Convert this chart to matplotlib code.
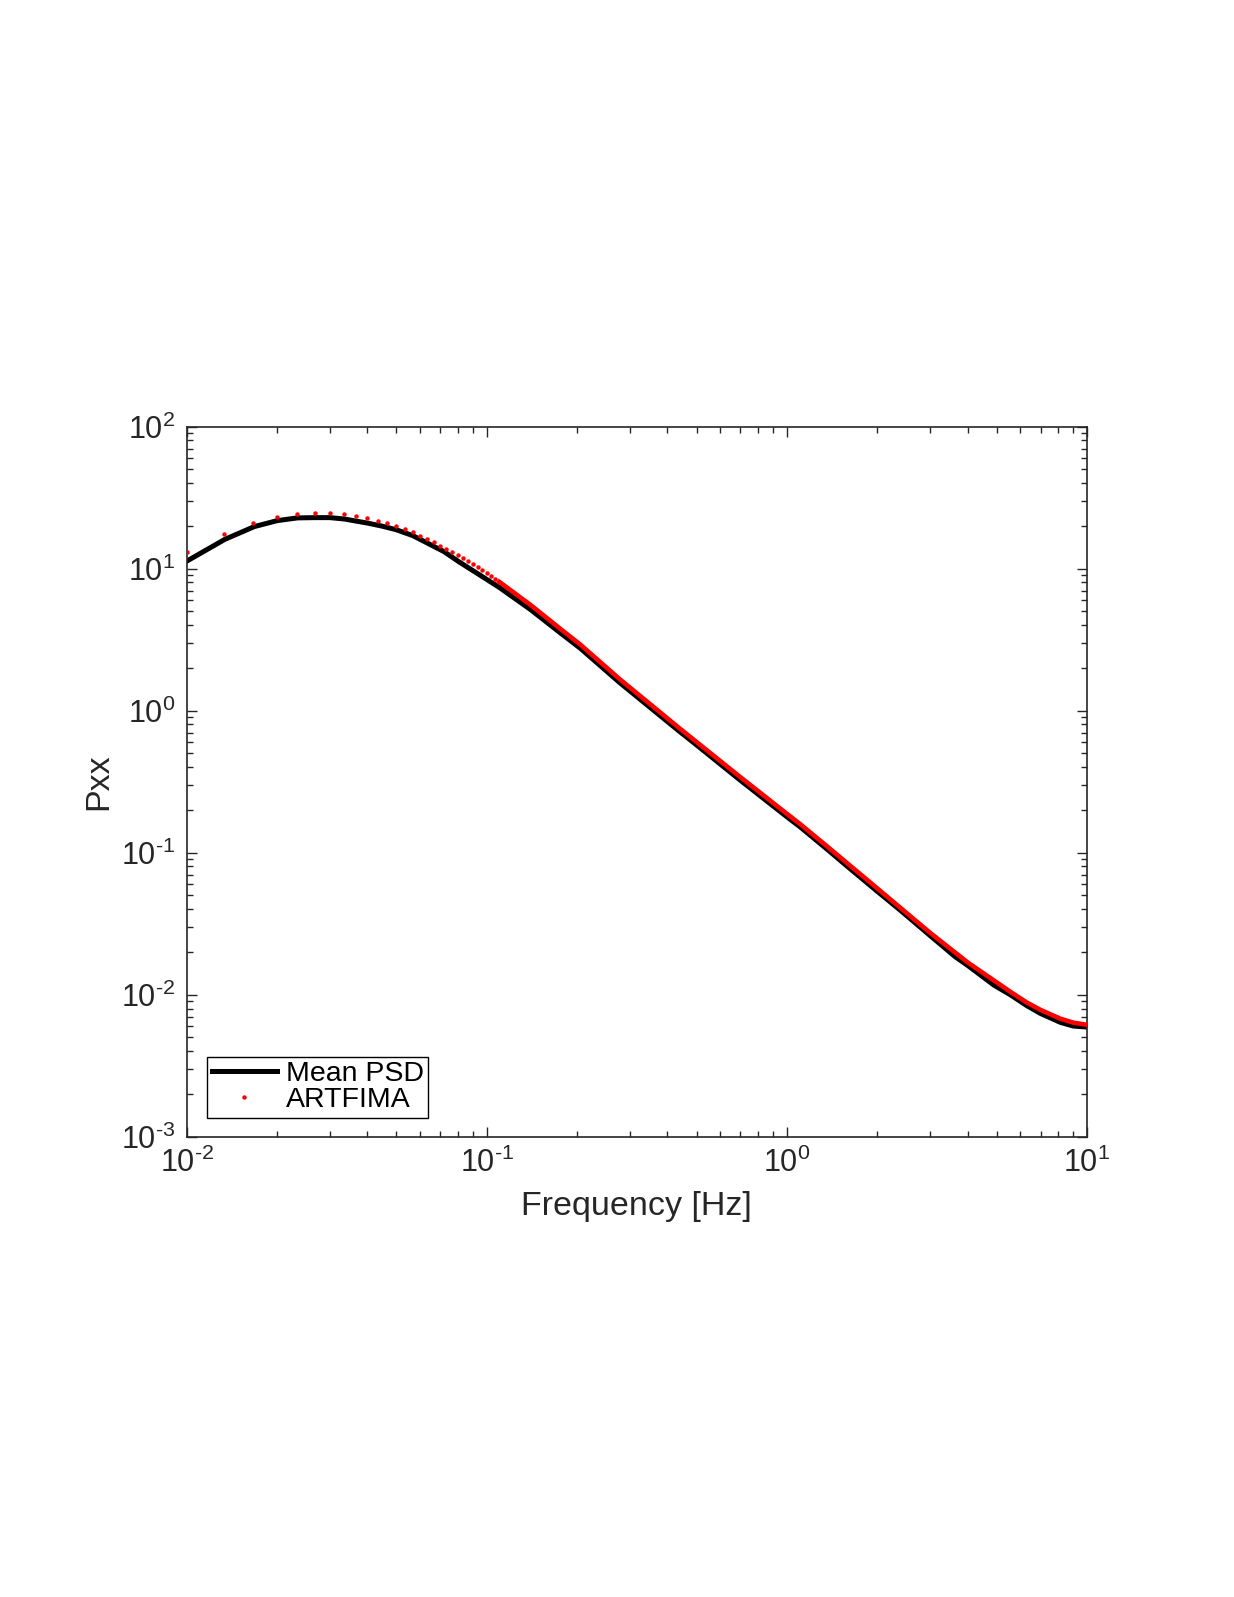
import numpy as np
import matplotlib
matplotlib.use('Agg')
import matplotlib.pyplot as plt
from matplotlib.ticker import FuncFormatter, LogLocator

plt.rcParams['font.family'] = ['Liberation Sans', 'DejaVu Sans']
plt.rcParams['mathtext.fontset'] = 'custom'
plt.rcParams['mathtext.rm'] = 'Liberation Sans'
plt.rcParams['axes.unicode_minus'] = False

# Mean PSD (black line)
freq_psd = [0.01, 0.0134, 0.0168, 0.02, 0.0234, 0.0268, 0.030, 0.0335, 0.0403,
            0.045, 0.050, 0.0567, 0.0636, 0.072, 0.0807, 0.095, 0.11, 0.14,
            0.1756, 0.205, 0.278, 0.44, 0.5, 0.698, 1.0, 1.107, 1.36, 1.564,
            2.0, 2.386, 3.0, 3.64, 4.0, 4.89, 5.55, 6.31, 7.0, 8.15, 9.0, 10.0]
pxx_psd = [11.3, 16.1, 19.8, 21.8, 22.8, 22.9, 22.9, 22.4, 20.9,
           19.9, 18.8, 17.1, 15.1, 13.2, 11.2, 9.0, 7.39, 5.15,
           3.54, 2.75, 1.57, 0.711, 0.574, 0.325, 0.179, 0.152, 0.106, 0.0825,
           0.0535, 0.0394, 0.0261, 0.0185, 0.0161, 0.0117, 0.0100, 0.00836,
           0.00738, 0.00639, 0.00602, 0.00592]

# ARTFIMA model: separate dots at low frequency (step 1/300 Hz)
freq_art_lo = np.arange(3, 34) / 300
pxx_art_lo = [13.2, 17.6, 21.0, 23.1, 24.3, 24.6, 24.6, 24.3, 23.5, 22.6,
              21.8, 20.9, 19.9, 18.9, 18.0, 17.1, 16.2, 15.3, 14.5, 13.8,
              13.1, 12.5, 11.9, 11.3, 10.8, 10.3, 9.8, 9.33, 8.88, 8.45, 8.09]
# ...where the dots merge into a continuous red band
freq_art_hi = [0.11, 0.14, 0.1756, 0.205, 0.278, 0.44, 0.698, 1.0, 1.107, 1.36,
               2.0, 3.0, 4.0, 5.55, 6.31, 7.0, 8.15, 9.0, 10.0]
pxx_art_hi = [8.09, 5.55, 3.78, 2.92, 1.66, 0.748, 0.342, 0.188, 0.159, 0.111,
              0.0561, 0.0273, 0.0169, 0.0105, 0.0088, 0.00782, 0.00678, 0.00636, 0.00614]


def pow10(v, pos):
    e = int(round(np.log10(v)))
    if e < 0:
        return r'$\mathdefault{10^{\text{-}%d}}$' % (-e)
    return r'$\mathdefault{10^{%d}}$' % e


fig = plt.figure(figsize=(12.34, 15.97), dpi=100)
ax = fig.add_axes([0.1513, 0.2882, 0.7296, 0.4446])

ax.plot(freq_psd, pxx_psd, color='black', lw=3.6, label='Mean PSD', zorder=2)
ax.plot(freq_art_lo, pxx_art_lo, 'o', color='red', ms=3.2, mec='none',
        label='ARTFIMA', zorder=3)
ax.plot(freq_art_hi, pxx_art_hi, '-', color='red', lw=3.3, zorder=3)

ax.set_xscale('log')
ax.set_yscale('log')
ax.set_xlim(0.01, 10)
ax.set_ylim(1e-3, 1e2)
ax.xaxis.set_major_locator(LogLocator(base=10))
ax.yaxis.set_major_locator(LogLocator(base=10))
ax.xaxis.set_major_formatter(FuncFormatter(pow10))
ax.yaxis.set_major_formatter(FuncFormatter(pow10))

dark = '#262626'
for s in ax.spines.values():
    s.set_color(dark)
    s.set_linewidth(1.2)
ax.tick_params(which='both', direction='in', top=True, right=True,
               colors=dark, labelsize=22)
ax.tick_params(which='major', length=7, width=1.0, pad=8)
ax.tick_params(which='minor', length=4, width=1.0)

ax.set_xlabel('Frequency [Hz]', fontsize=24.5, color=dark)
ax.set_ylabel('Pxx', fontsize=24.5, color=dark)
ax.xaxis.set_label_coords(0.5, -0.076)
ax.yaxis.set_label_coords(-0.08, 0.5)

leg = ax.legend(loc='lower left', bbox_to_anchor=(0.023, 0.027), fontsize=20.5,
                frameon=True, fancybox=False, framealpha=1, edgecolor='black',
                borderpad=0.15, labelspacing=0.0, handlelength=2.3,
                handletextpad=0.3, borderaxespad=0)
leg.get_frame().set_linewidth(1.0)

fig.savefig('out.png', dpi=100)
